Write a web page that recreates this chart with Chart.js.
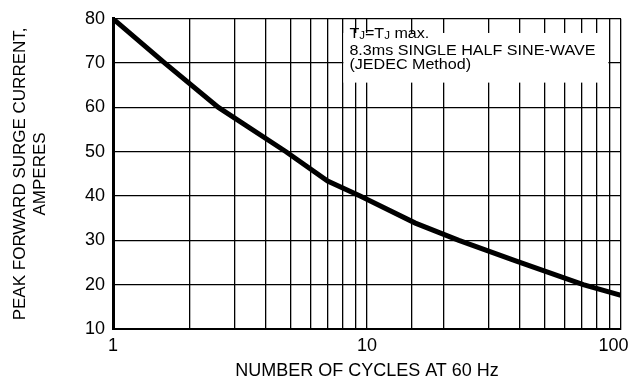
<!DOCTYPE html>
<html>
<head>
<meta charset="utf-8">
<script src="https://cdn.jsdelivr.net/npm/chart.js@4/dist/chart.umd.min.js"></script>
<style>
html, body { margin: 0; padding: 0; background: #fff; }
#wrap { width: 632px; height: 380px; }
</style>
</head>
<body>
<div id="wrap"><canvas id="surgeChart"></canvas></div>
<script>
// Surge current vs number of cycles
const cycles = [1, 1.6, 2.6, 4.8, 7.0, 9.4, 15.5, 23, 38, 71, 100];
const amps = [80, 70, 60, 50, 43.4, 40, 33.9, 30, 25.5, 20, 17.6];
const xLabels = [1, 10, 100];
const yMin = 10;
const yMax = 80;
const yStep = 10;

const fontFamily = '"Liberation Sans", Arial, Helvetica, sans-serif';

// White note box with the test conditions, sitting over the grid
const noteBox = {
    id: 'noteBox',
    beforeDatasetsDraw(chart) {
        const { ctx, scales: { x, y } } = chart;
        const left = x.getPixelForValue(8);
        const right = x.getPixelForValue(90);
        const top = y.getPixelForValue(76.8);
        const bottom = y.getPixelForValue(65.6);
        ctx.save();
        ctx.fillStyle = '#fff';
        ctx.fillRect(left + 1, top, right - left - 2, bottom - top);

        ctx.fillStyle = '#000';
        ctx.textBaseline = 'alphabetic';
        ctx.translate(left + 7, 0);
        ctx.scale(1.15, 1);
        const big = '14px ' + fontFamily;
        const small = '10px ' + fontFamily;
        let cx = 0;
        const put = (txt, font, dy) => {
            ctx.font = font;
            ctx.fillText(txt, cx, 38 + dy);
            cx += ctx.measureText(txt).width;
        };
        put('T', big, 0);
        put('J', small, 1);
        put('=T', big, 0);
        put('J', small, 1);
        put(' max.', big, 0);

        ctx.font = big;
        ctx.fillText('8.3ms SINGLE HALF SINE-WAVE', 0, 55);
        ctx.fillText('(JEDEC Method)', 0, 69);
        ctx.restore();
    }
};

const ctx = document.getElementById('surgeChart');
new Chart(ctx, {
    type: 'scatter',
    data: {
        datasets: [{
            data: cycles.map((c, i) => ({ x: c, y: amps[i] })),
            showLine: true,
            borderColor: '#000',
            borderWidth: 5,
            pointRadius: 0,
            tension: 0,
            fill: false
        }]
    },
    options: {
        responsive: true,
        maintainAspectRatio: false,
        animation: false,
        layout: { padding: { top: 15, left: 0, right: 11, bottom: 0 } },
        plugins: {
            legend: { display: false },
            tooltip: { enabled: false }
        },
        scales: {
            x: {
                type: 'logarithmic',
                min: 1,
                max: 100,
                grid: { color: '#000', lineWidth: 1.3, drawTicks: false },
                border: { color: '#000', width: 2 },
                ticks: {
                    autoSkip: false,
                    maxRotation: 0,
                    padding: 6,
                    color: '#000',
                    font: { family: fontFamily, size: 18 },
                    callback: (v) => {
                        if (!xLabels.includes(v)) return '';
                        return v === 100 ? '100   ' : String(v);
                    }
                },
                title: {
                    display: true,
                    text: 'NUMBER OF CYCLES AT 60 Hz',
                    color: '#000',
                    font: { family: fontFamily, size: 18, lineHeight: 1 },
                    padding: 0
                },
                afterFit: (s) => {
                    s.height = 51;
                    s.paddingLeft = 0;
                    s.paddingRight = 0;
                }
            },
            y: {
                min: yMin,
                max: yMax,
                grid: { color: '#000', lineWidth: 1.3, drawTicks: false },
                border: { color: '#000', width: 3 },
                ticks: {
                    stepSize: yStep,
                    padding: 8,
                    color: '#000',
                    font: { family: fontFamily, size: 18 }
                },
                title: {
                    display: true,
                    text: ['PEAK FORWARD SURGE CURRENT,', 'AMPERES'],
                    color: '#000',
                    font: { family: fontFamily, size: 17 },
                    padding: { top: 10, bottom: 0 }
                },
                afterFit: (s) => {
                    s.width = 113;
                }
            }
        }
    },
    plugins: [noteBox]
});
</script>
</body>
</html>
